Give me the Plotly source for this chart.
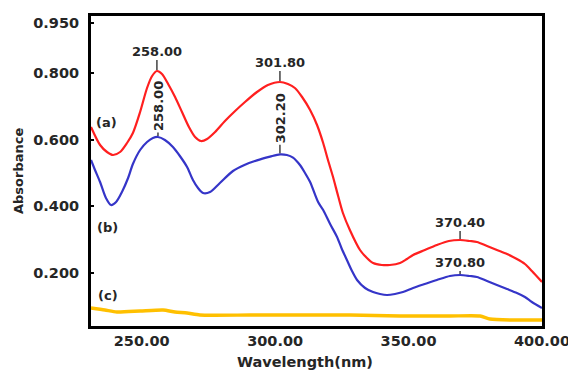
import numpy as np
import plotly.graph_objects as go

# ---- data ----
wl_a = [231.0, 234.4, 237.0, 239.2, 241.9, 244.5, 246.7, 249.4, 252.0, 253.9, 255.7, 257.6, 259.9,
        262.5, 265.1, 267.7, 270.0, 272.2, 274.5, 277.5, 281.2, 285.0, 288.7, 293.2, 297.3, 301.8,
        304.8, 307.4, 310.1, 313.1, 315.7, 318.0, 319.8, 321.7, 323.6, 325.4, 328.0, 331.8, 334.4,
        336.7, 340.0, 343.0, 346.8, 349.4, 351.7, 356.1, 360.6, 365.1, 369.3, 373.0, 375.6, 379.4,
        383.1, 386.9, 390.6, 393.6, 396.2, 400.0]
abs_a = [0.638, 0.584, 0.563, 0.554, 0.563, 0.590, 0.620, 0.683, 0.755, 0.791, 0.806, 0.797, 0.767,
         0.728, 0.683, 0.638, 0.608, 0.596, 0.602, 0.623, 0.656, 0.686, 0.713, 0.743, 0.764, 0.773,
         0.767, 0.755, 0.728, 0.689, 0.644, 0.590, 0.539, 0.488, 0.431, 0.380, 0.329, 0.269, 0.245,
         0.230, 0.224, 0.224, 0.230, 0.242, 0.254, 0.269, 0.284, 0.296, 0.299, 0.296, 0.293, 0.281,
         0.269, 0.257, 0.242, 0.227, 0.206, 0.173]

wl_b = [231.0, 232.5, 234.4, 236.6, 238.5, 240.4, 242.6, 244.9, 246.7, 249.4, 252.0, 254.2, 256.1,
        258.7, 261.7, 264.3, 267.0, 269.2, 271.1, 273.0, 275.6, 279.3, 284.2, 288.7, 293.2, 298.1,
        301.8, 304.4, 306.7, 309.3, 311.2, 313.1, 316.1, 318.0, 320.6, 323.2, 325.0, 326.9, 328.8,
        330.7, 333.7, 336.7, 339.3, 341.9, 344.9, 347.9, 351.7, 356.1, 360.6, 365.5, 369.3, 373.0,
        375.6, 379.4, 383.1, 386.9, 390.6, 393.6, 396.2, 400.0]
abs_b = [0.539, 0.509, 0.473, 0.425, 0.404, 0.413, 0.443, 0.485, 0.527, 0.569, 0.593, 0.605, 0.608,
         0.599, 0.578, 0.551, 0.518, 0.479, 0.455, 0.440, 0.443, 0.470, 0.506, 0.525, 0.538, 0.549,
         0.556, 0.554, 0.546, 0.524, 0.500, 0.473, 0.413, 0.389, 0.347, 0.308, 0.272, 0.239, 0.206,
         0.179, 0.155, 0.143, 0.137, 0.134, 0.137, 0.143, 0.155, 0.167, 0.179, 0.191, 0.194, 0.191,
         0.188, 0.176, 0.164, 0.152, 0.140, 0.128, 0.113, 0.095]

wl_c = [231.0, 236.2, 240.7, 249.4, 258.0, 262.5, 267.0, 271.8, 290.6, 309.3, 328.0, 346.8, 365.5,
        376.8, 380.5, 388.0, 400.0]
abs_c = [0.095, 0.089, 0.083, 0.086, 0.089, 0.083, 0.080, 0.074, 0.074, 0.074, 0.074, 0.071, 0.071,
         0.071, 0.062, 0.059, 0.059]

series_names = ["(a)", "(b)", "(c)"]
x_ticks = [250, 300, 350, 400]
y_ticks = [0.200, 0.400, 0.600, 0.800, 0.950]

# peak labels: (series, search window, label text, rotated?, text offset px)
peak_labels = [
    ("a", (245, 265), "258.00", False, -20),
    ("b", (245, 265), "258.00", True, -31),
    ("a", (290, 310), "301.80", False, -20),
    ("b", (290, 310), "302.20", True, -36),
    ("a", (355, 385), "370.40", False, -18),
    ("b", (355, 385), "370.80", False, -13),
]

RED = "#FF1F1F"
BLUE = "#3535C8"
YELLOW = "#FFC000"
TXT = "#262626"
FONT = "DejaVu Sans"

fig = go.Figure()
fig.add_trace(go.Scatter(x=wl_a, y=abs_a, mode="lines",
                         line=dict(color=RED, width=2.2, shape="spline", smoothing=0.8), name="(a)"))
fig.add_trace(go.Scatter(x=wl_b, y=abs_b, mode="lines",
                         line=dict(color=BLUE, width=2.2, shape="spline", smoothing=0.8), name="(b)"))
fig.add_trace(go.Scatter(x=wl_c, y=abs_c, mode="lines",
                         line=dict(color=YELLOW, width=3.4, shape="spline", smoothing=0.6), name="(c)"))

data = {"a": (wl_a, abs_a), "b": (wl_b, abs_b)}
ann_list = []
for s, (lo, hi), text, rot, ay in peak_labels:
    xs, ys = np.array(data[s][0]), np.array(data[s][1])
    m = (xs >= lo) & (xs <= hi)
    k = np.argmax(np.where(m, ys, -1))
    ann_list.append(dict(
        x=float(xs[k]), y=float(ys[k]), xref="x", yref="y", text=text,
        showarrow=True, arrowhead=0, arrowwidth=1.3, arrowcolor=TXT, ax=0, ay=ay,
        standoff=1, textangle=-90 if rot else 0,
        font=dict(family=FONT, size=13, color=TXT, weight="bold")))

label_pos = [(236.8, 0.653), (237.3, 0.338), (237.3, 0.134)]
for name, (lx, ly) in zip(series_names, label_pos):
    ann_list.append(dict(x=lx, y=ly, xref="x", yref="y", text=name, showarrow=False,
                         font=dict(family=FONT, size=13, color=TXT, weight="bold")))

# axis titles placed as annotations relative to the plot area
ann_list.append(dict(x=0, y=0.5, xref="paper", yref="paper", text="Absorbance", showarrow=False,
                     textangle=-90, xanchor="center", yanchor="middle", xshift=-73,
                     font=dict(family=FONT, size=13, color=TXT, weight="bold")))
ann_list.append(dict(x=0.5, y=0, xref="paper", yref="paper", text="Wavelength(nm)", showarrow=False,
                     xanchor="center", yanchor="middle", xshift=-11.5, yshift=-36,
                     font=dict(family=FONT, size=14.5, color=TXT, weight="bold")))

# the page body has an 8px margin, so the figure is sized/offset to compensate
fig.update_layout(
    width=568, height=365,
    margin=dict(l=83, r=34, t=8, b=47),
    paper_bgcolor="white", plot_bgcolor="white",
    showlegend=False,
    annotations=ann_list,
    font=dict(family=FONT, color=TXT),
)
fig.update_xaxes(
    range=[231, 400], tickvals=x_ticks, ticktext=[f"{v:.2f}" for v in x_ticks],
    showgrid=False, zeroline=False, showline=True, mirror=True, linewidth=3, linecolor="black",
    ticks="", automargin=False,
    tickfont=dict(family=FONT, size=14.5, color=TXT, weight="bold"),
)
fig.update_yaxes(
    range=[0.041, 0.971], tickvals=y_ticks, ticktext=[f"{v:.3f}" for v in y_ticks],
    showgrid=False, zeroline=False, showline=True, mirror=True, linewidth=3, linecolor="black",
    ticks="inside", ticklen=3, tickwidth=1.5, tickcolor="black", automargin=False,
    ticklabelstandoff=6,
    tickfont=dict(family=FONT, size=14.5, color=TXT, weight="bold"),
)
fig.write_html("out.html")
